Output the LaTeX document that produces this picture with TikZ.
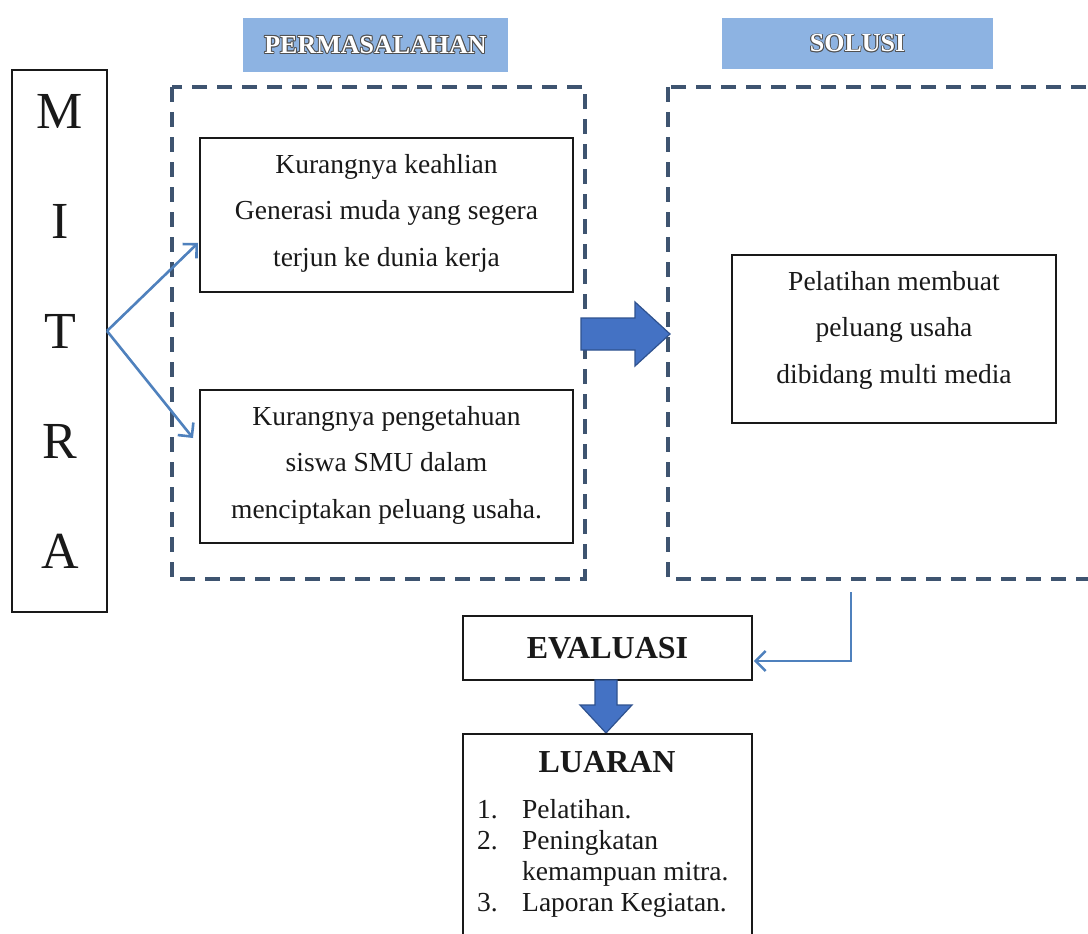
\documentclass[tikz,border=0pt]{standalone}
\usepackage{fontspec}
\setmainfont{Liberation Serif}
\usetikzlibrary{arrows.meta,calc}
\definecolor{dashcol}{RGB}{62,84,112}
\definecolor{labelfill}{RGB}{141,179,226}
\definecolor{linkcol}{RGB}{79,129,189}
\definecolor{bigfill}{RGB}{68,114,196}
\definecolor{bigdraw}{RGB}{47,82,143}
\definecolor{txt}{RGB}{25,25,25}
\definecolor{shadowcol}{RGB}{80,80,80}
\tikzset{
  plainbox/.style={draw=txt, line width=1.5pt, fill=white, inner sep=0pt},
  dashbox/.style={draw=dashcol, line width=4.5pt, dash pattern=on 15pt off 10pt},
  bodytext/.style={text=txt, align=center, font=\fontsize{27.5}{46.5}\selectfont},
  labelbox/.style={fill=labelfill, draw=none, inner sep=0pt},
  labeltext/.style={font=\fontsize{26}{30}\selectfont\bfseries},
  link/.style={draw=linkcol, line width=2.6pt, -{Straight Barb[length=10pt,width=20pt,line width=2.6pt]}},
  bigarrow/.style={fill=bigfill, draw=bigdraw, line width=1.2pt, line join=miter},
  listtext/.style={text=txt, font=\fontsize{27.5}{31}\selectfont, inner sep=0pt},
}
\newcommand{\outlinedlabel}[3]{%
  \foreach \dx/\dy in {-0.9/0,0.9/0,0/-0.9,0/0.9,-0.7/-0.7,0.7/0.7,-0.7/0.7,0.7/-0.7}{%
    \node[labeltext, text=shadowcol] at ($(#2)+(\dx,\dy)$) {#3};}
  \node[labeltext, text=white] (#1) at (#2) {#3};}
\begin{document}
\begin{tikzpicture}[x=1pt,y=-1pt]
\useasboundingbox (0,0) rectangle (1088,934);
\clip (0,0) rectangle (1088,934);
\fill[white] (0,0) rectangle (1088,934);

% labels
\node[labelbox, minimum width=265pt, minimum height=54pt] (permlab) at (375.5,45) {};
\outlinedlabel{permtext}{permlab.center}{PERMASALAHAN}
\node[labelbox, minimum width=271pt, minimum height=51pt] (sollab) at (857.5,43.5) {};
\outlinedlabel{soltext}{sollab.center}{SOLUSI}

% MITRA
\node[plainbox, minimum width=95pt, minimum height=542pt] (mitra) at (59.5,341) {};
\node[text=txt, align=center, font=\fontsize{52}{110}\selectfont] (mitratext) at (60,331) {M\\I\\T\\R\\A};

% dashed frames
\draw[dashbox] (172,87) rectangle (585,579);
\node[inner sep=0pt, minimum width=413pt, minimum height=492pt] (frame1) at (378.5,333) {};
\draw[dashbox] (668,87) rectangle (1110,579);
\node[inner sep=0pt, minimum width=442pt, minimum height=492pt] (frame2) at (889,333) {};

% problem boxes
\node[plainbox, minimum width=373pt, minimum height=154pt] (p1) at (386.5,215) {};
\node[bodytext] (p1text) at (386.5,213) {Kurangnya keahlian\\Generasi muda yang segera\\terjun ke dunia kerja};
\node[plainbox, minimum width=373pt, minimum height=153pt] (p2) at (386.5,466.5) {};
\node[bodytext] (p2text) at (386.5,465) {Kurangnya pengetahuan\\siswa SMU dalam\\menciptakan peluang usaha.};

% solution box
\node[plainbox, minimum width=324pt, minimum height=168pt] (sol) at (894,339) {};
\node[bodytext] (soltextbody) at (894,330) {Pelatihan membuat\\peluang usaha\\dibidang multi media};

% arrows from MITRA
\coordinate (m0) at (107,331);
\coordinate (t1) at (198,243);
\coordinate (t2) at (193,438);
\draw[link] (m0) -- (t1);
\draw[link] (m0) -- (t2);

% big right arrow
\draw[bigarrow] (581,318) -- (635,318) -- (635,302) -- (670,334) -- (635,366) -- (635,350) -- (581,350) -- cycle;

% EVALUASI
\node[plainbox, minimum width=289pt, minimum height=64pt, font=\fontsize{32}{36}\selectfont\bfseries, text=txt] (eval) at (607.5,648) {EVALUASI};

% connector from solution frame to EVALUASI
\coordinate (s0) at (851,592);
\draw[link] (s0) |- ($(eval.east)+(1,13)$);

% big down arrow
\draw[bigarrow] (595,680) -- (617,680) -- (617,705) -- (632,705) -- (606,733) -- (580,705) -- (595,705) -- cycle;

% LUARAN
\node[plainbox, minimum width=289pt, minimum height=230pt, anchor=north] (luaran) at (607.5,733) {};
\node[text=txt, font=\fontsize{32}{36}\selectfont\bfseries] (luarantitle) at (607,762) {LUARAN};
\node[listtext, anchor=mid west] (n1) at (477,816) {1.};
\node[listtext, anchor=mid west] (l1) at (522,816) {Pelatihan.};
\node[listtext, anchor=mid west] (n2) at (477,847) {2.};
\node[listtext, anchor=mid west] (l2) at (522,847) {Peningkatan};
\node[listtext, anchor=mid west] (l2b) at (522,878) {kemampuan mitra.};
\node[listtext, anchor=mid west] (n3) at (477,909) {3.};
\node[listtext, anchor=mid west] (l3) at (522,909) {Laporan Kegiatan.};
\end{tikzpicture}
\end{document}
